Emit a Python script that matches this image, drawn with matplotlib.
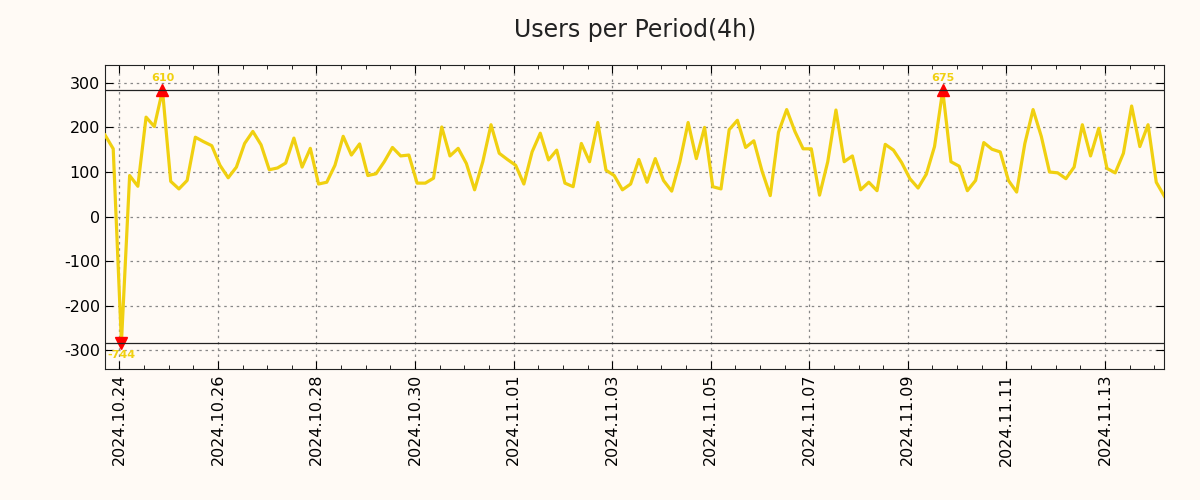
import numpy as np
import pandas as pd
import matplotlib
matplotlib.use("Agg")
import matplotlib.pyplot as plt
import matplotlib.dates as mdates

# users per 4h period, starting 2024.10.23 17:00
start = "2024-10-23 17:00"
users = [
    183, 152, -744, 92, 68, 223, 202, 610, 79, 62,
    81, 178, 168, 159, 115, 87, 111, 164, 191, 161,
    105, 109, 120, 176, 111, 153, 73, 77, 115, 180,
    138, 163, 92, 96, 123, 155, 136, 138, 75, 75,
    86, 201, 136, 153, 119, 60, 123, 206, 142, 128,
    115, 73, 145, 187, 127, 149, 75, 67, 164, 123,
    211, 104, 92, 60, 73, 128, 77, 130, 81, 57,
    123, 211, 130, 200, 67, 62, 195, 216, 155, 170,
    102, 47, 189, 240, 191, 152, 152, 48, 123, 239,
    123, 136, 60, 77, 58, 162, 149, 121, 85, 64,
    95, 157, 675, 123, 113, 58, 81, 166, 151, 145,
    81, 55, 164, 240, 180, 100, 98, 85, 111, 206,
    136, 198, 108, 98, 142, 248, 157, 206, 77, 45,
]
clip_limit = 283
y_ticks = [-300, -200, -100, 0, 100, 200, 300]

bg = "#fffaf5"
gold = "#f0d010"

times = pd.date_range(start, periods=len(users), freq="4h")
vals = np.array(users)
shown = np.clip(vals, -clip_limit, clip_limit)

fig = plt.figure(figsize=(12, 5), dpi=100, facecolor=bg)
ax = fig.add_axes([0.0875, 0.262, 0.8829, 0.608])
ax.set_facecolor(bg)

ax.plot(times, shown, color=gold, lw=2.3, zorder=3)

for t, v, s in zip(times, vals, shown):
    if v > clip_limit:
        ax.plot(t, s, marker="^", color="red", markersize=8, zorder=4)
        ax.annotate(str(v), (t, s), xytext=(0, 5), textcoords="offset points",
                    ha="center", va="bottom", fontsize=8, fontweight="bold", color=gold)
    elif v < -clip_limit:
        ax.plot(t, s, marker="v", color="red", markersize=8, zorder=4)
        ax.annotate(str(v), (t, s), xytext=(0, -5), textcoords="offset points",
                    ha="center", va="top", fontsize=8, fontweight="bold", color=gold)

ax.axhline(clip_limit, color="#222222", lw=0.9, zorder=5)
ax.axhline(-clip_limit, color="#222222", lw=0.9, zorder=5)

ax.set_yticks(y_ticks)
ax.set_yticklabels([str(v) for v in y_ticks])

ax.set_xticks(pd.date_range("2024-10-24", "2024-11-14", freq="2D"))
ax.set_xticks(pd.date_range("2024-10-23 12:00", "2024-11-14 12:00", freq="12h"), minor=True)
ax.xaxis.set_major_formatter(mdates.DateFormatter("%Y.%m.%d"))
ax.set_xlim(times[0], times[-1])
ax.set_ylim(-342, 340)

ax.grid(True, which="major", color="#888888", linestyle=(0, (2, 3)), lw=0.9)
ax.tick_params(axis="both", which="both", direction="in", top=True, right=True, labelsize=11.5)
ax.tick_params(axis="x", which="major", length=6, rotation=90)
ax.tick_params(axis="x", which="minor", length=3)
ax.tick_params(axis="y", length=6)
for sp in ax.spines.values():
    sp.set_color("#222222")

ax.set_title("Users per Period(4h)", fontsize=17, pad=20, color="#222222")

plt.savefig("out.png", facecolor=bg)
plt.close()
